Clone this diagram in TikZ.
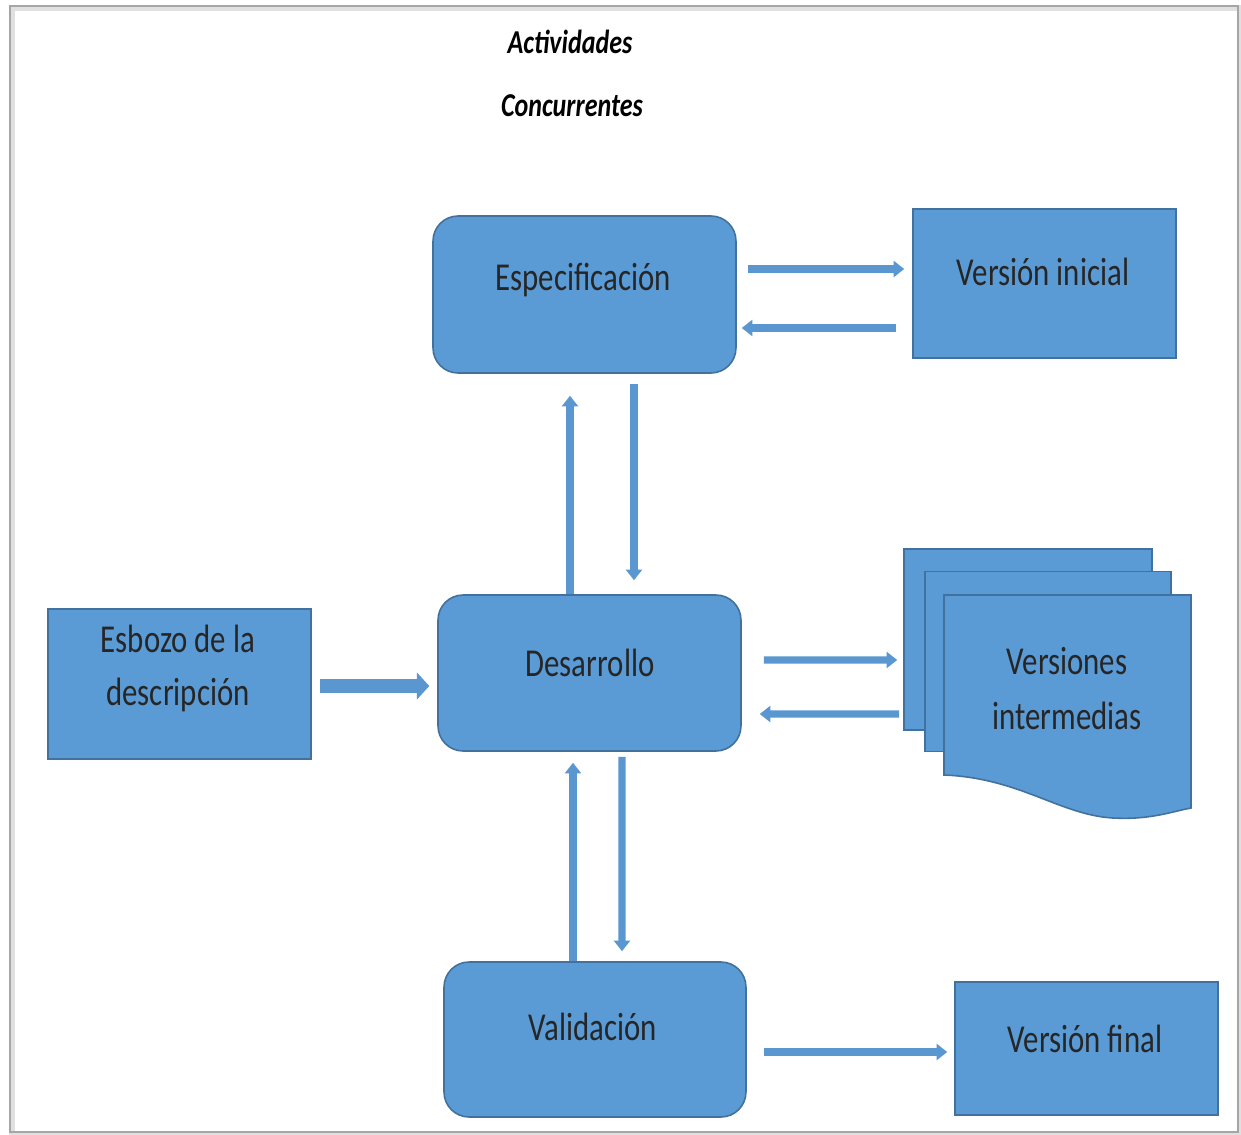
\documentclass[tikz,border=0pt]{standalone}
\usepackage{fontspec}
\setmainfont[FakeStretch=0.78]{Carlito}
\usetikzlibrary{arrows.meta,calc}
\definecolor{boxblue}{HTML}{5B9BD5}
\definecolor{boxedge}{HTML}{41719C}
\definecolor{arrblue}{HTML}{5A96CF}
\begin{document}
\begin{tikzpicture}[x=0.02cm,y=-0.02cm,
  rbox/.style={draw=boxedge,fill=boxblue,line width=0.9pt,rounded corners=0.5cm,inner sep=0pt},
  sbox/.style={draw=boxedge,fill=boxblue,line width=0.9pt,inner sep=0pt},
  lbl/.style={font=\fontsize{22.5}{30}\selectfont,text=black!85,align=center,inner sep=0pt},
  arr/.style={draw=arrblue,line width=4pt,-{Triangle[length=6pt,width=9pt]}},
  bigarr/.style={draw=arrblue,line width=8pt,-{Triangle[length=7pt,width=15pt]}},
  ttl/.style={font=\fontsize{19}{23}\selectfont\bfseries\itshape,inner sep=0pt}]
\useasboundingbox (0,0) rectangle (1241,1135);
\fill[white] (0,0) rectangle (1241,1135);
% page frame with soft shadow
\draw[black!12, line width=3pt] (12,8) rectangle (1240,1134);
\draw[black!35, line width=1pt] (10,6) rectangle (1238,1132);

% titles
\node[ttl] (t1) at (570,42) {Actividades};
\node[ttl] (t2) at (572,106) {Concurrentes};

% boxes
\node[rbox, minimum width=6.06cm, minimum height=3.14cm] (spec) at (584.5,294.5) {};
\node[sbox, minimum width=5.26cm, minimum height=2.98cm] (vi) at (1044.5,283.5) {};
\node[rbox, minimum width=6.06cm, minimum height=3.12cm] (des) at (589.5,673) {};
\node[sbox, minimum width=5.26cm, minimum height=3.00cm] (esb) at (179.5,684) {};
\node[rbox, minimum width=6.04cm, minimum height=3.10cm] (val) at (595,1039.5) {};
\node[sbox, minimum width=5.26cm, minimum height=2.66cm] (vf) at (1086.5,1048.5) {};

% multi-document
\node[sbox, minimum width=4.96cm, minimum height=3.62cm] (docback) at (1028,639.5) {};
\node[sbox, minimum width=4.92cm, minimum height=3.60cm] (docmid) at (1048,661.5) {};
\filldraw[draw=boxedge,fill=boxblue,line width=0.9pt]
  (944,595) -- (1191,595) -- (1191,808)
  .. controls (1170,812) and (1150,820) .. (1113,818)
  .. controls (1060,815) and (1020,778) .. (944,775) -- cycle;

% labels
\node[lbl] (specl) at (583,280) {Especificación};
\node[lbl] (vil) at (1043,272) {Versión inicial};
\node[lbl] (desl) at (590,663) {Desarrollo};
\node[lbl] (esbl) at (178,668.5) {Esbozo de la\\descripción};
\node[lbl] (vall) at (593,1027) {Validación};
\node[lbl] (vfl) at (1085,1039) {Versión final};
\node[lbl, font=\fontsize{22.5}{31}\selectfont] (vint) at (1067,688.5) {Versiones\\intermedias};

% arrows
\draw[arr] ($(spec.east)+(11,-25.5)$) -- ($(vi.west)+(-8,-14.5)$);
\draw[arr] ($(vi.west)+(-16,44.5)$) -- ($(spec.east)+(5,33.5)$);
\draw[arr] ($(des.north)+(-19.5,0)$) -- ($(spec.south)+(-14.5,22)$);
\draw[arr] ($(spec.south)+(49.5,10)$) -- ($(des.north)+(44.5,-14)$);
\draw[bigarr] ($(esb.east)+(8,2)$) -- ($(des.west)+(-8,13)$);
\draw[arr] ($(des.east)+(22,-13)$) -- ($(docback.west)+(-6,20.5)$);
\draw[arr] ($(docback.west)+(-4,74.5)$) -- ($(des.east)+(18,41)$);
\draw[arr] ($(val.north)+(-22,0)$) -- ($(des.south)+(-16.5,11)$);
\draw[arr] ($(des.south)+(32.5,5)$) -- ($(val.north)+(27,-10)$);
\draw[arr] ($(val.east)+(17,12.5)$) -- ($(vf.west)+(-7,3.5)$);
\end{tikzpicture}
\end{document}
